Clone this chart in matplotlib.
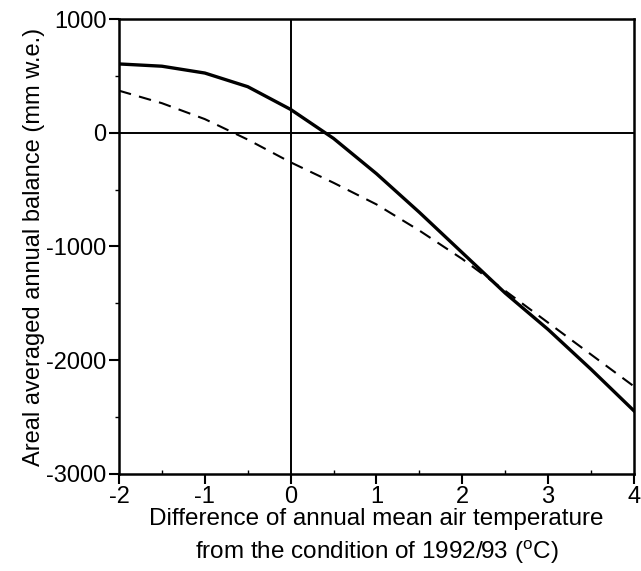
import matplotlib.pyplot as plt
from matplotlib.ticker import MultipleLocator

# Temperature offsets from 1992/93 (deg C)
dT = [-2, -1.5, -1, -0.5, 0, 0.5, 1, 1.5, 2, 2.5, 3, 3.5, 4]

# Areal averaged annual balance (mm w.e.)
balance_solid = [605, 585, 525, 405, 205, -50, -360, -700, -1055, -1410, -1730, -2080, -2445]
balance_dashed = [370, 260, 120, -60, -260, -440, -630, -860, -1110, -1390, -1670, -1950, -2230]

plt.rcParams['font.family'] = ['Liberation Sans', 'DejaVu Sans']
plt.rcParams['axes.unicode_minus'] = False

fig = plt.figure(figsize=(6.41, 5.71), dpi=100)
ax = fig.add_axes([0.1856, 0.17, 0.8034, 0.7967])

ax.axhline(0, color='black', lw=1.4, zorder=1)
ax.axvline(0, color='black', lw=1.4, zorder=1)

ax.plot(dT, balance_solid, color='black', lw=2.4, solid_joinstyle='round', zorder=3)
ax.plot(dT, balance_dashed, color='black', lw=1.5, dashes=(6, 4), zorder=3)

ax.set_xlim(-2, 4)
ax.set_ylim(-3000, 1000)
ax.xaxis.set_major_locator(MultipleLocator(1))
ax.xaxis.set_minor_locator(MultipleLocator(0.5))
ax.yaxis.set_major_locator(MultipleLocator(1000))
ax.yaxis.set_minor_locator(MultipleLocator(500))

ax.tick_params(axis='both', which='major', direction='out', length=7, width=1.5,
               labelsize=17, pad=2)
ax.tick_params(axis='x', which='minor', direction='in', length=3, width=1)
ax.tick_params(axis='y', which='minor', direction='out', length=3, width=1)

for s in ax.spines.values():
    s.set_linewidth(1.8)

ax.set_xlabel('Difference of annual mean air temperature\nfrom the condition of 1992/93 ($\\mathregular{^oC}$)',
              fontsize=17.5, linespacing=1.4, labelpad=0)
ax.set_ylabel('Areal averaged annual balance (mm w.e.)', fontsize=17, labelpad=1)

fig.savefig('out.png', dpi=100)
